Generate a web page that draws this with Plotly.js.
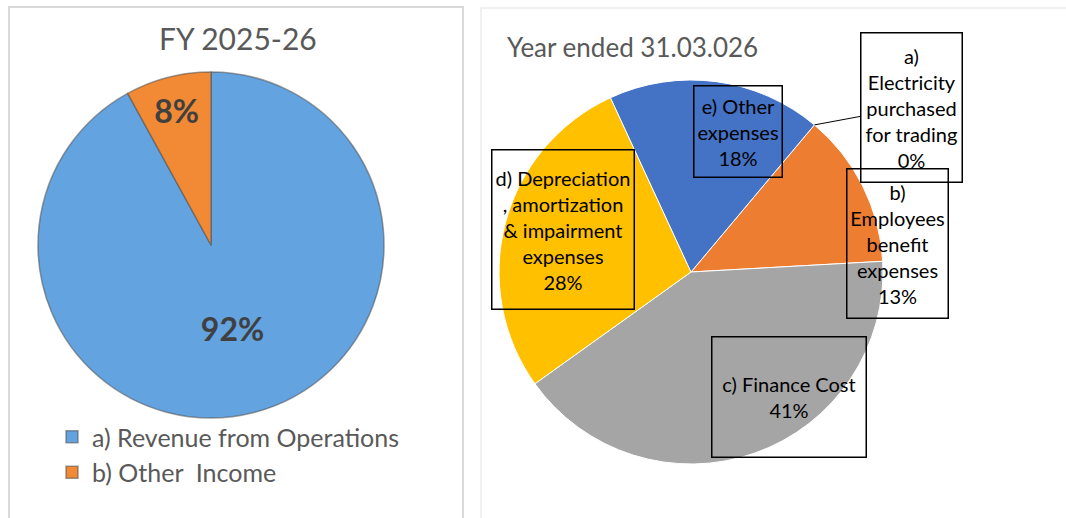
<!DOCTYPE html>
<html>
<head>
<meta charset="utf-8">
<script src="https://cdn.plot.ly/plotly-3.0.1.min.js"></script>
<style>
  html, body { margin: 0; padding: 0; background: #fff; }
  #chart { width: 1066px; height: 518px; }
</style>
</head>
<body>
<div id="chart"></div>
<script>
// ---- data ----
const incomeLabels = ["a) Revenue from Operations", "b) Other  Income"];
const incomeValues = [92, 8];
const incomeColors = ["#62A3E0", "#F28A35"];

const expenseLabels = [
  "a)<br>Electricity<br>purchased<br>for trading",
  "b)<br>Employees<br>benefit<br>expenses",
  "c) Finance Cost",
  "d) Depreciation<br>, amortization<br>& impairment<br>expenses",
  "e) Other<br>expenses"
];
const expenseValues = [0, 13, 41, 28, 18];
const expenseColors = ["#4472C4", "#ED7D31", "#A5A5A5", "#FFC000", "#4472C4"];

const W = 1066, H = 518;
const px = (x) => x / W;
const py = (y) => 1 - y / H;

// left pie: income split
const incomeTrace = {
  type: "pie",
  labels: incomeLabels,
  values: incomeValues,
  sort: false,
  direction: "clockwise",
  rotation: 0,
  domain: { x: [px(38), px(384)], y: [py(418), py(72)] },
  marker: { colors: incomeColors, line: { color: "rgba(80,80,80,0.55)", width: 1.5 } },
  textinfo: "percent",
  texttemplate: "%{percent:.0%}",
  textposition: "inside",
  insidetextorientation: "horizontal",
  textfont: { family: "Lato, sans-serif", size: 32, color: "#404040", weight: "bold" },
  hoverinfo: "label+percent",
  showlegend: true
};

// right pie: expense split
const expenseTrace = {
  type: "pie",
  labels: expenseLabels,
  values: expenseValues,
  sort: false,
  direction: "clockwise",
  rotation: 40,
  domain: { x: [px(499), px(883)], y: [py(464), py(80)] },
  marker: { colors: expenseColors, line: { color: "#ffffff", width: 1 } },
  textinfo: "none",
  hoverinfo: "label+percent",
  showlegend: false
};

// boxed data labels for the right pie (position / size per label)
const total = expenseValues.reduce((a, b) => a + b, 0);
const boxes = [
  { cx: 911, cy: 107, w: 100, h: 148 },
  { cx: 897, cy: 244, w: 100, h: 148 },
  { cx: 789, cy: 397, w: 153, h: 119 },
  { cx: 563, cy: 229, w: 141, h: 158 },
  { cx: 738, cy: 132, w: 87, h: 90 }
];

const labelFont = { family: "Lato, sans-serif", size: 20, color: "#000000" };
const annotations = expenseLabels.map((lab, i) => {
  const pct = Math.round(expenseValues[i] / total * 100);
  const b = boxes[i];
  return {
    xref: "paper", yref: "paper",
    x: px(b.cx), y: py(b.cy),
    xanchor: "center", yanchor: "middle",
    text: lab + "<br>" + pct + "%",
    font: labelFont,
    width: b.w, height: b.h,
    align: "center", valign: "middle",
    bordercolor: "#000000", borderwidth: 1.5, borderpad: 0,
    showarrow: false
  };
});

// leader line from the 0% slice edge to its box
const r = 192, cx0 = 691, cy0 = 272, a0 = 40 * Math.PI / 180;
const tipX = cx0 + r * Math.sin(a0), tipY = cy0 - r * Math.cos(a0);
annotations[0].showarrow = true;
annotations[0].arrowhead = 0;
annotations[0].arrowwidth = 1;
annotations[0].arrowcolor = "#000000";
annotations[0].x = px(tipX);
annotations[0].y = py(tipY);
annotations[0].ax = boxes[0].cx - tipX;
annotations[0].ay = boxes[0].cy - tipY;
delete annotations[0].xanchor;
delete annotations[0].yanchor;

// titles
annotations.push({
  xref: "paper", yref: "paper", x: px(238), y: py(38),
  xanchor: "center", yanchor: "middle", showarrow: false,
  text: "FY 2025-26",
  font: { family: "Lato, sans-serif", size: 30, color: "#595959" }
});
annotations.push({
  xref: "paper", yref: "paper", x: px(505), y: py(47),
  xanchor: "left", yanchor: "middle", showarrow: false,
  text: "Year ended 31.03.026",
  font: { family: "Lato, sans-serif", size: 26, color: "#595959" }
});

const layout = {
  width: W, height: H,
  margin: { l: 0, r: 0, t: 0, b: 0 },
  paper_bgcolor: "#ffffff",
  showlegend: true,
  legend: {
    x: px(52), y: py(414), xanchor: "left", yanchor: "top",
    orientation: "v",
    font: { family: "Lato, sans-serif", size: 25, color: "#595959" },
    itemwidth: 30,
    bgcolor: "rgba(0,0,0,0)"
  },
  shapes: [
    { type: "rect", xref: "paper", yref: "paper",
      x0: px(9), x1: px(463), y0: -0.05, y1: py(7),
      line: { color: "#D9D9D9", width: 2 } },
    { type: "rect", xref: "paper", yref: "paper",
      x0: px(481), x1: 1.05, y0: -0.05, y1: py(8),
      line: { color: "#EDEDED", width: 1.5 } }
  ],
  annotations: annotations
};

Plotly.newPlot("chart", [incomeTrace, expenseTrace], layout, { displayModeBar: false, staticPlot: true });
</script>
</body>
</html>
